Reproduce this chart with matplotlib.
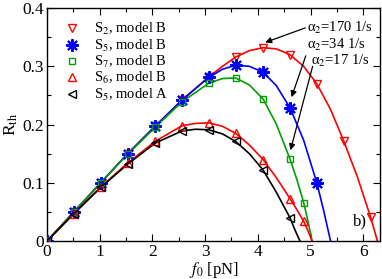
import matplotlib
matplotlib.use("Agg")
import matplotlib.pyplot as plt
from matplotlib.ticker import MultipleLocator

plt.rcParams['font.family'] = ['Liberation Serif', 'DejaVu Serif']
plt.rcParams['mathtext.fontset'] = 'stix'

# ---- marker data ----
s2_x = [0, 0.51, 1.02, 1.53, 2.05, 2.56, 3.07, 3.58, 4.10, 4.61, 5.12, 5.63, 6.14]
s2_y = [0, 0.050, 0.100, 0.150, 0.197, 0.242, 0.282, 0.316, 0.332, 0.320, 0.270, 0.172, 0.041]

s5b_x = [0, 0.51, 1.02, 1.53, 2.05, 2.56, 3.07, 3.58, 4.10, 4.61, 5.12]
s5b_y = [0, 0.050, 0.100, 0.150, 0.197, 0.242, 0.281, 0.302, 0.290, 0.229, 0.100]

s7_x = [0, 0.51, 1.02, 1.53, 2.05, 2.56, 3.07, 3.58, 4.10, 4.61, 4.87]
s7_y = [0, 0.050, 0.100, 0.149, 0.195, 0.239, 0.271, 0.280, 0.244, 0.141, 0.066]

s6_x = [0, 0.51, 1.02, 1.53, 2.05, 2.56, 3.07, 3.58, 4.10, 4.61, 4.87]
s6_y = [0, 0.047, 0.093, 0.134, 0.171, 0.198, 0.203, 0.185, 0.140, 0.073, 0.034]

s5a_x = [0, 0.51, 1.02, 1.53, 2.05, 2.56, 3.07, 3.58, 4.10, 4.61]
s5a_y = [0, 0.047, 0.092, 0.132, 0.168, 0.189, 0.191, 0.171, 0.122, 0.040]

# ---- fitted curves ----
s2_cx = [0, 0.51, 1.02, 1.53, 2.05, 2.56, 3.07, 3.33, 3.58, 3.84, 4.10, 4.35, 4.61, 4.87, 5.12, 5.38, 5.63, 5.89, 6.14, 6.27]
s2_cy = [0, 0.050, 0.100, 0.150, 0.197, 0.242, 0.282, 0.300, 0.316, 0.327, 0.332, 0.330, 0.320, 0.300, 0.270, 0.226, 0.172, 0.110, 0.041, 0.0]

s5b_cx = [0, 0.51, 1.02, 1.53, 2.05, 2.56, 3.07, 3.33, 3.58, 3.84, 4.10, 4.35, 4.61, 4.87, 5.12, 5.25, 5.38]
s5b_cy = [0, 0.050, 0.100, 0.150, 0.197, 0.242, 0.281, 0.295, 0.302, 0.300, 0.290, 0.267, 0.229, 0.173, 0.100, 0.052, 0.0]

s7_cx = [0, 0.51, 1.02, 1.53, 2.05, 2.56, 3.07, 3.33, 3.58, 3.84, 4.10, 4.35, 4.61, 4.74, 4.87, 4.95, 5.03]
s7_cy = [0, 0.050, 0.100, 0.149, 0.195, 0.239, 0.271, 0.279, 0.280, 0.268, 0.244, 0.201, 0.141, 0.106, 0.066, 0.035, 0.0]

s6_cx = [0, 0.51, 1.02, 1.53, 2.05, 2.56, 2.82, 3.07, 3.33, 3.58, 3.84, 4.10, 4.35, 4.61, 4.74, 4.87, 4.95, 5.03]
s6_cy = [0, 0.047, 0.093, 0.134, 0.171, 0.198, 0.202, 0.203, 0.197, 0.185, 0.165, 0.140, 0.109, 0.073, 0.054, 0.034, 0.018, 0.0]

s5a_cx = [0, 0.51, 1.02, 1.53, 2.05, 2.56, 2.82, 3.07, 3.33, 3.58, 3.84, 4.10, 4.35, 4.61, 4.70, 4.80]
s5a_cy = [0, 0.047, 0.092, 0.132, 0.168, 0.189, 0.192, 0.191, 0.184, 0.171, 0.150, 0.122, 0.084, 0.040, 0.020, 0.0]

labels = ["S$_2$, model B", "S$_5$, model B", "S$_7$, model B", "S$_6$, model B", "S$_5$, model A"]
annot_text = ["α$_2$=170 1/s", "α$_2$=34 1/s", "α$_2$=17 1/s"]
annot_tail = [(4.90, 0.366), (4.91, 0.318), (5.04, 0.300)]
annot_head = [(4.14, 0.341), (4.64, 0.247), (4.62, 0.156)]
annot_textpos = [(4.93, 0.366), (4.93, 0.337), (5.00, 0.309)]

RED = '#ff0000'
BLUE = '#0000ff'
GREEN = '#00a000'
BLACK = '#000000'

fig = plt.figure(figsize=(3.82, 2.79), dpi=100)
ax = fig.add_axes([0.123, 0.136, 0.872, 0.835])

lw = 1.2
series = [
    (s2_cx, s2_cy, s2_x, s2_y, RED, 'v', 5.6, 1.0),
    (s5b_cx, s5b_cy, s5b_x, s5b_y, BLUE, (8, 2, 0), 9.0, 1.5),
    (s7_cx, s7_cy, s7_x, s7_y, GREEN, 's', 4.6, 1.0),
    (s6_cx, s6_cy, s6_x, s6_y, RED, '^', 5.6, 1.0),
    (s5a_cx, s5a_cy, s5a_x, s5a_y, BLACK, '<', 5.6, 1.0),
]
handles = []
for (cx, cy, mx, my, c, m, ms, mew), lab in zip(series, labels):
    ax.plot(cx, cy, color=c, lw=lw, zorder=2)
    h, = ax.plot(mx, my, ls='none', marker=m, ms=ms, mfc='none', mec=c, mew=mew, zorder=3, label=lab)
    handles.append(h)

leg = ax.legend(handles=handles, loc='upper left', bbox_to_anchor=(0.0, 1.0),
                frameon=False, fontsize=10.5, handletextpad=0.7, labelspacing=0.02,
                borderaxespad=0.5, handlelength=1.6)

for t, tail, head, tp in zip(annot_text, annot_tail, annot_head, annot_textpos):
    ax.annotate('', xy=head, xytext=tail,
                arrowprops=dict(arrowstyle='-|>', color='black', lw=0.9,
                                mutation_scale=9, shrinkA=0, shrinkB=0))
    ax.text(tp[0], tp[1], t, fontsize=10.5, ha='left', va='center')

ax.text(5.93, 0.033, "b)", fontsize=12, ha='center', va='center')

ax.set_xlim(0, 6.32)
ax.set_ylim(0, 0.4)
ax.xaxis.set_major_locator(MultipleLocator(1))
ax.xaxis.set_minor_locator(MultipleLocator(0.5))
ax.yaxis.set_major_locator(MultipleLocator(0.1))
ax.yaxis.set_minor_locator(MultipleLocator(0.05))
ax.set_yticks([0, 0.1, 0.2, 0.3, 0.4])
ax.set_yticklabels(["0", "0.1", "0.2", "0.3", "0.4"])
ax.tick_params(which='both', direction='in', top=True, right=True, labelsize=12.5)
ax.tick_params(which='major', length=5, width=0.8, pad=2)
ax.tick_params(which='minor', length=3, width=0.8)
for s in ax.spines.values():
    s.set_linewidth(1.0)

ax.set_xlabel(r"$f_0$ [pN]", fontsize=12, labelpad=0)
ax.set_ylabel(r"R$_{\rm th}$", fontsize=12.5, labelpad=2)

fig.savefig("out.png", dpi=100)
